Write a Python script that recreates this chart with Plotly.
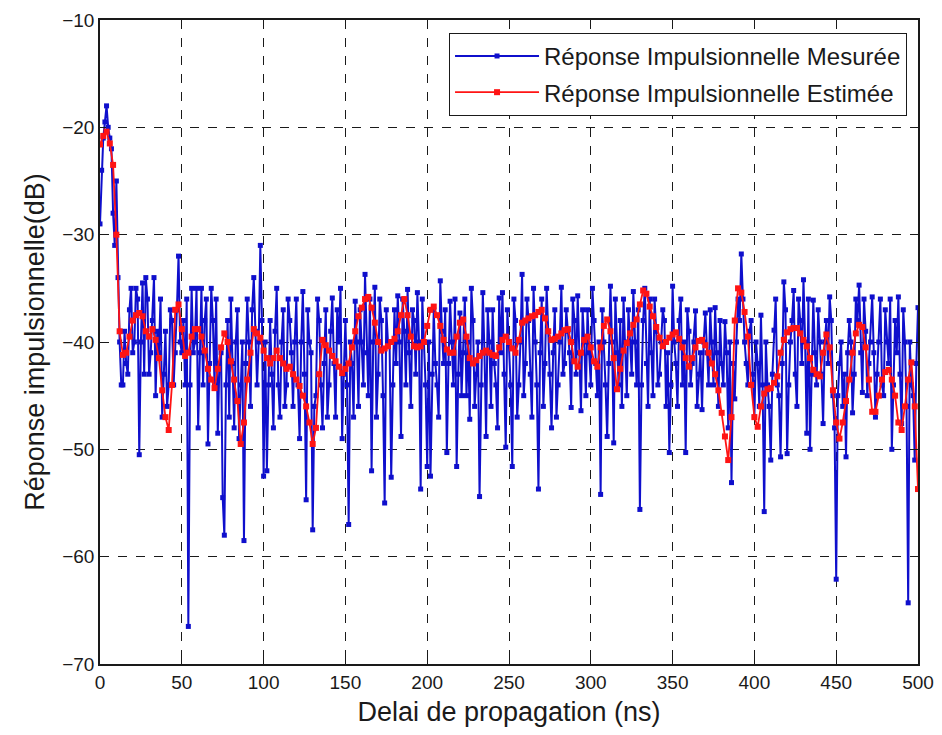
import plotly.graph_objects as go

# Measured impulse response (dB) at even delays 0, 2, ..., 500 ns
mesuree_even_db = [
    -29, -21, -18, -21, -28, -25, -40, -44, -42, -37,
    -41, -35, -50.5, -34.5, -34, -43, -38, -45, -41, -47,
    -39, -44, -38, -41, -32, -41, -44, -66.5, -35, -40,
    -48, -35, -38, -49.5, -35, -44, -48.5, -41, -58, -38,
    -36, -48, -37, -44, -58.5, -36, -46, -34, -44, -31,
    -52.5, -52, -38, -48, -35, -47, -37, -44, -38, -46,
    -36, -49, -35.3, -54.7, -40, -57.5, -45, -38, -48, -37,
    -44, -35.9, -47, -40, -49, -38, -57, -42, -36.2, -46,
    -40, -33.7, -45, -52, -34.9, -43, -38, -55, -40, -52.6,
    -37, -35.7, -48.8, -39, -35.1, -46, -38, -35.4, -53.7, -40,
    -51.6, -52.5, -37, -44, -34.3, -42, -50.3, -36.2, -44, -51.6,
    -37.3, -41, -45, -47.2, -38, -43, -54.4, -35.4, -48.8, -40,
    -37, -44, -35.9, -35.4, -49.8, -40, -51.6, -38, -44, -33.7,
    -42, -38, -47, -40, -53.7, -36, -42, -39, -48, -37,
    -44, -34.9, -42, -39, -46.1, -38, -35.7, -46.4, -40, -37,
    -44, -38, -45, -54.2, -40, -48.8, -34.8, -49.4, -41, -38,
    -36, -45, -40, -35.3, -44, -55.6, -38, -42, -36, -45,
    -39, -43, -37, -46, -50.3, -34.8, -42, -38, -44, -50.3,
    -39, -42, -37.1, -43, -46.3, -37.3, -44, -40, -36.8, -46,
    -42, -38.1, -48, -53.1, -45.3, -36, -31.8, -40, -44, -38,
    -47, -42, -37.5, -55.8, -44, -51, -38.9, -44, -50.7, -34.4,
    -50.4, -40, -35.2, -46, -38, -34.2, -48.5, -50, -36.1, -44,
    -40, -47.6, -38, -35.8, -45, -62.1, -42, -46, -50.7, -38,
    -46.6, -36, -34.7, -44.7, -39, -42, -35.8, -47, -40, -44,
    -37, -42, -50, -38, -35.8, -47.6, -40, -64.3, -44, -51,
    -36.8,
]

# Measured impulse response (dB) at odd delays 1, 3, ..., 499 ns
mesuree_odd_db = [
    -24, -19.5, -20, -22, -31, -34, -44, -39, -43, -35,
    -40, -36, -40, -43, -36, -41, -34, -39, -36, -43,
    -46, -37, -44, -37, -40, -38, -36, -44, -41, -35,
    -41, -44, -36, -42, -38, -36, -42, -54.5, -44, -47,
    -42, -40, -49, -40, -42, -40, -37, -39, -40, -38,
    -40, -44, -43, -39, -44, -40, -46, -36, -41, -40,
    -44, -40, -43, -37, -41, -46, -36, -44, -42, -47,
    -39, -42, -37, -35, -43, -44, -40, -47, -40, -37,
    -44, -41, -36, -40, -47, -36, -45, -37, -40, -44,
    -42, -40, -36, -44, -41, -37, -43, -40, -36, -44,
    -40, -43, -42, -47, -39, -37, -42, -40, -36, -43,
    -45, -36, -40, -35, -46, -40, -44, -41, -37, -46,
    -42, -48, -41, -43, -37, -44, -36, -47, -40, -45,
    -36, -43, -35, -44, -41, -46, -35, -43, -41, -47,
    -40, -43, -37, -41, -36, -43, -41, -37, -45, -41,
    -35, -42, -40, -37, -44, -42, -40, -36, -44, -46,
    -40, -37, -43, -40, -37, -44, -35, -46, -41, -36,
    -44, -40, -38, -41, -44, -40, -46, -36, -40, -37,
    -44, -40, -46, -41, -40, -41, -37, -44, -41, -38,
    -44, -41, -40, -42, -40, -38, -36, -42, -39, -43,
    -40, -46, -44, -40, -46, -43, -36, -45, -42, -37,
    -44, -38, -43, -36, -42, -40, -36, -43, -41, -37,
    -43, -40, -42, -38, -48, -45, -40, -43, -41, -40,
    -43, -38, -41, -36, -45, -40, -41, -43, -36, -45,
    -40, -36, -44, -41, -43, -37, -46, -40, -45, -42,
]

# Estimated impulse response (dB) at delays 0, 2, ..., 500 ns
estimee_db = [
    -21.6, -20.8, -20.4, -21.5, -23.5, -30, -39, -41.2, -41, -39.5,
    -38, -37.5, -37.3, -37.6, -39, -39.5, -38.8, -39.8, -41.5, -44.5,
    -47, -48.2, -44, -37, -36.5, -38.8, -41.3, -41, -39.5, -38.8,
    -38.8, -39.5, -40.8, -42.5, -43.5, -44.3, -42.5, -40.5, -39.2, -40,
    -41.8, -43.5, -45.5, -49.5, -47.5, -43.5, -41, -38.8, -39.2, -39.6,
    -40.8, -41.5, -42, -41.5, -40.8, -41.5, -42, -42.5, -42.3, -43,
    -43.5, -44.1, -45, -46, -47.5, -49.5, -48, -43, -39.8, -40.3,
    -40.8, -41.3, -41.8, -42.3, -42.9, -42.5, -42, -40.5, -39, -37.6,
    -36.8, -36, -35.8, -36.8, -38.2, -40, -40.8, -40.6, -40.4, -40,
    -39.7, -39, -37.5, -36, -37.5, -39.5, -40.4, -40.5, -40.4, -40,
    -38.5, -37, -36.7, -37.5, -38.5, -39.8, -40.7, -41, -41, -39.5,
    -38.2, -37.9, -39.5, -41.5, -42, -41.7, -41.3, -41, -40.8, -41,
    -41.2, -41.3, -40.5, -39.8, -39.5, -40, -40.6, -41, -39.8, -38.2,
    -38, -37.8, -37.6, -37.5, -37.2, -37, -37.8, -39, -39.8, -39.7,
    -39.5, -39.2, -38.9, -38.8, -40, -41.8, -42.3, -41, -39.8, -39.5,
    -40.5, -41.8, -42.3, -40.5, -38.5, -37.9, -39, -41.5, -44.4, -42.5,
    -40.8, -40.1, -39.2, -38.4, -37.9, -36.5, -35.2, -35.5, -36.7, -37.6,
    -38.6, -39.6, -40.4, -40, -39.6, -39.3, -39.1, -39.7, -40.5, -41.5,
    -42.3, -41.5, -40.5, -39.9, -39.8, -40.3, -41, -42, -43, -44.5,
    -46.6, -48.8, -51, -47, -38, -35, -35.4, -37.2, -39.5, -44,
    -47, -47.9, -46, -44.8, -44.4, -44.3, -43.8, -43.2, -41, -39.8,
    -39.1, -38.8, -38.7, -38.7, -39.2, -39.8, -40.4, -41.5, -42.6, -43,
    -43.2, -41, -39.3, -40.5, -44.5, -47.5, -49, -47.5, -45.5, -43.5,
    -41, -39.2, -38.4, -38.6, -40.5, -43.5, -46.5, -46.5, -45, -43.5,
    -42.8, -42.6, -43.5, -45, -47.5, -48.2, -46, -43.5, -41.9, -46,
    -53.7,
]

estimee_ns = list(range(0, 501, 2))
mesuree_ns = list(range(0, 501))
mesuree_db = []
for i in range(len(mesuree_even_db)):
    mesuree_db.append(mesuree_even_db[i])
    if i < len(mesuree_odd_db):
        mesuree_db.append(mesuree_odd_db[i])

x_ticks = [0, 50, 100, 150, 200, 250, 300, 350, 400, 450, 500]
y_ticks = [-70, -60, -50, -40, -30, -20, -10]

FONT = "Liberation Sans, Arial, sans-serif"
INK = "#1a1a1a"

fig = go.Figure()
fig.add_trace(go.Scatter(
    x=mesuree_ns, y=mesuree_db, mode="lines+markers",
    name="Réponse Impulsionnelle Mesurée", legendgroup="a",
    line=dict(color="#0f0fcc", width=2),
    marker=dict(symbol="square", size=5, color="#0f0fcc"),
))
fig.add_trace(go.Scatter(
    x=estimee_ns, y=estimee_db, mode="lines+markers",
    name="Réponse Impulsionnelle Estimée", legendgroup="b",
    line=dict(color="#ff1414", width=1.8),
    marker=dict(symbol="square", size=6, color="#ff1414"),
))

axis_common = dict(
    showline=True, linecolor=INK, linewidth=1.5, mirror="ticks",
    ticks="inside", ticklen=6, tickcolor=INK,
    showgrid=True, gridcolor=INK, gridwidth=1, griddash="dash",
    zeroline=False, automargin=False,
    tickfont=dict(family=FONT, size=19, color=INK),
)

fig.update_xaxes(
    range=[0, 500], tickvals=x_ticks,
    title=dict(text="Delai de propagation (ns)", font=dict(family=FONT, size=27, color=INK), standoff=15),
    **axis_common,
)
fig.update_yaxes(
    range=[-70, -10], tickvals=y_ticks,
    title=dict(text="Réponse impulsionnelle(dB)", font=dict(family=FONT, size=27, color=INK), standoff=10),
    **axis_common,
)

fig.update_layout(
    width=926, height=719,
    margin=dict(l=92, r=16, t=12, b=63),
    paper_bgcolor="white", plot_bgcolor="white",
    showlegend=True,
    legend=dict(
        x=0.9866, y=0.98, xanchor="right", yanchor="top",
        bgcolor="white", bordercolor=INK, borderwidth=1,
        font=dict(family=FONT, size=24, color=INK),
        itemwidth=84, tracegroupgap=2,
    ),
)

fig.write_html("out.html")
